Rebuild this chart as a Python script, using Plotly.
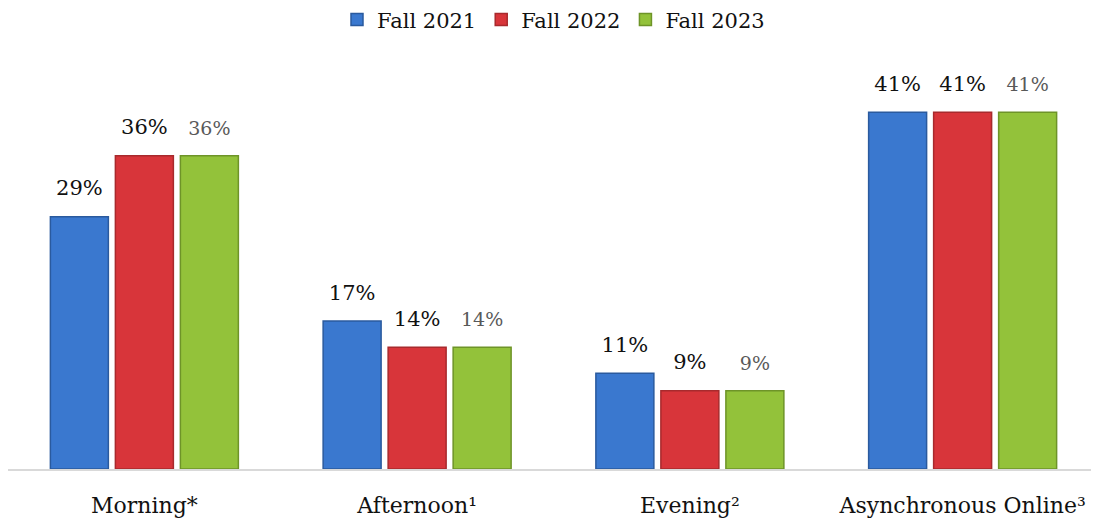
import plotly.graph_objs as go

categories = ["Morning*", "Afternoon¹", "Evening²", "Asynchronous Online³"]
series_names = ["Fall 2021", "Fall 2022", "Fall 2023"]
fall_2021 = [29, 17, 11, 41]
fall_2022 = [36, 14, 9, 41]
fall_2023 = [36, 14, 9, 41]

colors = ["#3a78cf", "#d8353a", "#93c23a"]
edges = ["#2a5a9e", "#a82a2d", "#6e9428"]
label_fonts = [
    dict(family="DejaVu Serif", size=21, color="#111111"),
    dict(family="DejaVu Serif", size=21, color="#111111"),
    dict(family="DejaVu Serif", size=19, color="#595959"),
]

fig = go.Figure()
for i, (name, vals) in enumerate(zip(series_names, [fall_2021, fall_2022, fall_2023])):
    fig.add_trace(
        go.Bar(
            x=categories,
            y=vals,
            name=name,
            offsetgroup=str(i),
            marker=dict(color=colors[i], line=dict(color=edges[i], width=1.5)),
        )
    )
    # value labels, pushed a bit higher than plotly's own outside text
    fig.add_trace(
        go.Scatter(
            x=categories,
            y=vals,
            offsetgroup=str(i),
            mode="markers+text",
            marker=dict(size=24, opacity=0),
            text=[f"{v}%" for v in vals],
            textposition="top center",
            textfont=label_fonts[i],
            showlegend=False,
            hoverinfo="skip",
            cliponaxis=False,
        )
    )

fig.update_layout(
    width=1091,
    height=519,
    template="simple_white",
    barmode="group",
    scattermode="group",
    bargap=0.285,
    bargroupgap=0.108,
    scattergap=0.285,
    margin=dict(l=0, r=0, t=52, b=58),
    font=dict(family="DejaVu Serif", size=21, color="#111111"),
    legend=dict(
        orientation="h",
        x=0.5,
        xanchor="center",
        y=0.977,
        yanchor="middle",
        yref="container",
        font=dict(size=21),
        itemwidth=30,
        traceorder="normal",
    ),
    xaxis=dict(
        showline=True,
        linecolor="#d9d9d9",
        linewidth=2,
        ticks="outside",
        ticklen=16,
        tickcolor="rgba(0,0,0,0)",
        tickfont=dict(size=22),
    ),
    yaxis=dict(
        range=[0, 47],
        visible=False,
    ),
)

fig.write_html("out.html")
